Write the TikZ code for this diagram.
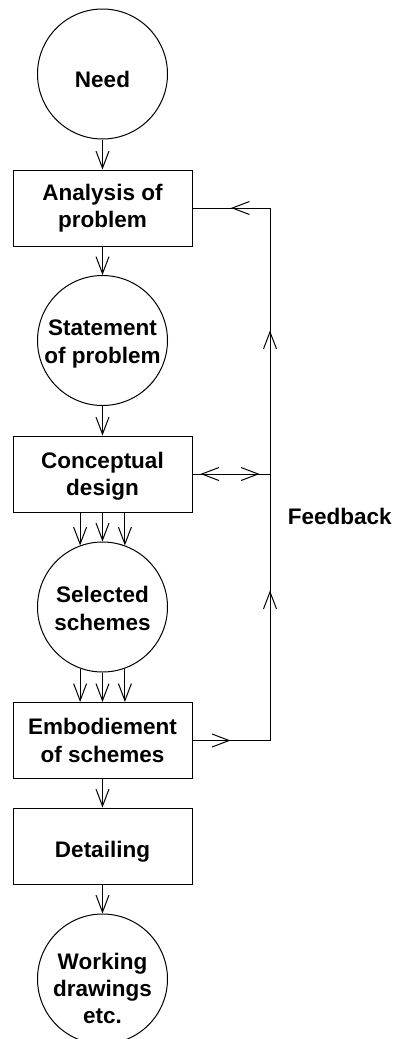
\documentclass[tikz,border=0pt]{standalone}
\usepackage{fontspec}
\setmainfont{Liberation Sans}
\usetikzlibrary{arrows.meta,decorations.markings}
\begin{document}
\begin{tikzpicture}[x=1pt,y=-1pt,
  every node/.style={font=\bfseries\fontsize{22.5}{27.3}\selectfont, align=center, line width=1pt},
  circ/.style={draw, circle, minimum size=130pt, inner sep=0pt},
  boxn/.style={draw, rectangle, minimum width=179pt, minimum height=76pt, inner sep=0pt},
  arr/.style={line width=1pt, -{Straight Barb[length=17pt,width=13pt]}},
  ln/.style={line width=1pt}
]
\useasboundingbox (0,0) rectangle (395,1039);
\clip (0,0) rectangle (395,1039);
\node[circ, label={[yshift=-5.5pt]center:Need}] (need) at (102.5,74) {};
\node[boxn, label={[yshift=0pt]center:Analysis of\\problem}] (ana) at (102.5,208) {};
\node[circ, label={[yshift=-3.5pt]center:Statement\\of problem}] (stat) at (102.5,340.5) {};
\node[boxn, label={[yshift=-2pt]center:Conceptual\\design}] (con) at (102.5,474) {};
\node[circ, label={[yshift=-1.5pt]center:Selected\\schemes}] (sel) at (102.5,607) {};
\node[boxn, label={[yshift=0pt]center:Embodiement\\of schemes}] (emb) at (102.5,740.5) {};
\node[boxn, label={[yshift=-5.5pt]center:Detailing}] (det) at (102.5,846) {};
\node[circ, label={[yshift=-9.5pt]center:Working\\drawings\\etc.}] (work) at (102.5,979) {};
\node[anchor=west] (fbt) at (284,516) {Feedback};

\draw[arr] (need) -- (ana);
\draw[arr] (ana) -- (stat);
\draw[arr] (stat) -- (con);
\draw[arr] (con.south -| sel.110) -- (sel.110);
\draw[arr] (con) -- (sel);
\draw[arr] (con.south -| sel.70) -- (sel.70);
\draw[arr] (sel.250) -- (sel.250 |- emb.north);
\draw[arr] (sel) -- (emb);
\draw[arr] (sel.290) -- (sel.290 |- emb.north);
\draw[arr] (emb) -- (det);
\draw[arr] (det) -- (work);

\coordinate (c1) at (270,740.5);
\coordinate (c2) at (270,208);
\coordinate (c3) at (270,474);
\draw[ln, postaction={decorate}, decoration={markings, mark=at position 38pt with {\arrow{Straight Barb[length=17pt,width=13pt]}}}] (emb.east) -- (c1);
\draw[ln, postaction={decorate}, decoration={markings,
  mark=at position 150pt with {\arrow{Straight Barb[length=17pt,width=13pt]}},
  mark=at position 410pt with {\arrow{Straight Barb[length=17pt,width=13pt]}}}] (c1) -- (c2);
\draw[ln, postaction={decorate}, decoration={markings, mark=at position 39pt with {\arrow{Straight Barb[length=17pt,width=13pt]}}}] (c2) -- (ana.east);
\draw[ln, postaction={decorate}, decoration={markings,
  mark=at position 8pt with {\arrowreversed{Straight Barb[length=17pt,width=13pt]}},
  mark=at position 67pt with {\arrow{Straight Barb[length=17pt,width=13pt]}}}] (con.east) -- (c3);
\end{tikzpicture}
\end{document}
